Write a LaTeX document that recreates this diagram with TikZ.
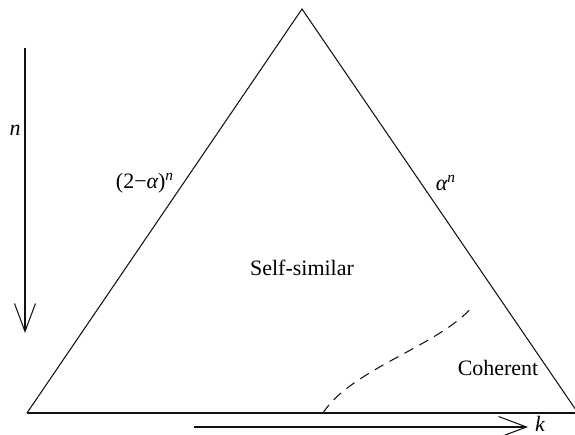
\documentclass[tikz,border=0pt]{standalone}
\usepackage{fontspec}
\setmainfont{Liberation Serif}
\usetikzlibrary{arrows.meta}
\definecolor{darkline}{HTML}{111111}
\tikzset{
  edge/.style={
    draw=darkline,
    line width=0.6pt
  },
  axis/.style={
    edge,
    -{Straight Barb[length=5.6mm, width=4.2mm, line width=0.6pt]}
  },
  border/.style={
    edge,
    dash pattern=on 2mm off 1.4mm
  },
  label/.style={
    inner sep=1pt,
    font=\fontsize{12.5}{15}\selectfont
  }
}

\begin{document}
\begin{tikzpicture}

% Fixed frame, same proportions as the page.
\useasboundingbox (0, 0) rectangle (11.5, 8.7);

% Triangle corners.
\coordinate (apex) at (6.04, 8.52);
\coordinate (left) at (0.54, 0.44);
\coordinate (right) at (11.56, 0.44);

% Axes.
\coordinate (ntop) at (0.5, 7.74);
\coordinate (nend) at (0.5, 2.04);
\coordinate (kstart) at (3.88, 0.16);
\coordinate (kend) at (10.56, 0.16);

% Boundary between regions.
\coordinate (cstart) at (6.46, 0.44);
\coordinate (cend) at (9.44, 2.56);

\draw[edge] (left) -- (apex) -- (right);
\draw[edge] (left) -- (right);

\draw[axis] (ntop) -- (nend);
\draw[axis] (kstart) -- (kend);
\node[label] (nlabel) at (0.3, 6.1) {\itshape n};
\node[label, anchor=base west] (klabel) at (10.66, 0.07) {\itshape k};

\draw[border] (cstart) .. controls (7.0, 1.3) and (8.8, 1.8) .. (cend);

% Labels.
\node[label] (leftrate) at (2.9, 5.04) {(2−{\itshape α})\textsuperscript{\itshape n}};
\node[label] (rightrate) at (8.92, 5.04) {{\itshape α}\textsuperscript{\itshape n}};
\node[label] (selfsim) at (6.04, 3.34) {Self-similar};
\node[label] (coherent) at (9.96, 1.34) {Coherent};

\end{tikzpicture}
\end{document}
